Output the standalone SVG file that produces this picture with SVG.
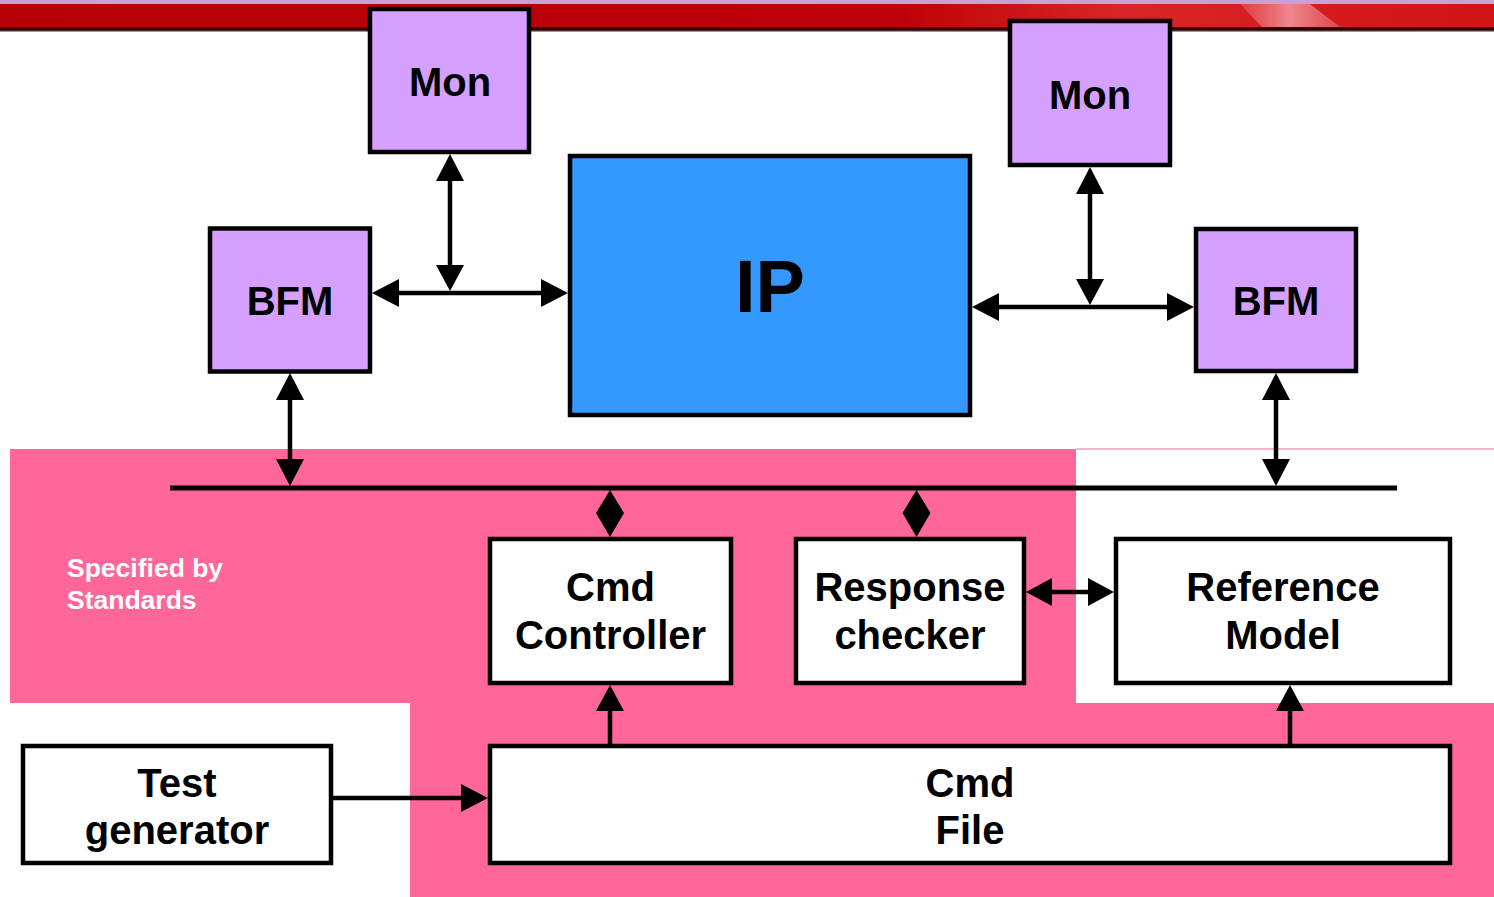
<svg xmlns="http://www.w3.org/2000/svg" width="1494" height="897" viewBox="0 0 1494 897">
  <defs>
    <linearGradient id="barRed" x1="0" y1="0" x2="1" y2="0">
      <stop offset="0" stop-color="#b60007"/>
      <stop offset="0.6" stop-color="#bc0208"/>
      <stop offset="0.75" stop-color="#d82428"/>
      <stop offset="1" stop-color="#d01418"/>
    </linearGradient>
    <linearGradient id="barShade" x1="0" y1="0" x2="0" y2="1">
      <stop offset="0" stop-color="#5a0000"/>
      <stop offset="0.6" stop-color="#1a0000"/>
      <stop offset="1" stop-color="#c8c8c8"/>
    </linearGradient>
    <linearGradient id="sheen" x1="0" y1="0" x2="1" y2="0">
      <stop offset="0" stop-color="#f08a90" stop-opacity="0.3"/>
      <stop offset="0.5" stop-color="#f29aa0" stop-opacity="0.85"/>
      <stop offset="1" stop-color="#f08a90" stop-opacity="0.4"/>
    </linearGradient>
    <style>
      .box { stroke: #000; stroke-width: 4.5; }
      .purple { fill: #d5a0ff; }
      .white { fill: #ffffff; }
      .blue { fill: #3399ff; }
      .lbl { font-family: "Liberation Sans", Arial, sans-serif; font-weight: bold; font-size: 40px; fill: #000; text-anchor: middle; }
      .big { font-size: 74px; }
      .note { font-family: "Liberation Sans", Arial, sans-serif; font-weight: bold; font-size: 26.5px; fill: #ffffff; }
      .wire { stroke: #000; stroke-width: 4.5; fill: none; }
      .head { fill: #000; }
    </style>
  </defs>

  <!-- page background and title bar -->
  <rect x="0" y="0" width="1494" height="897" fill="#ffffff"/>
  <rect x="0" y="0" width="1494" height="4" fill="#c6a2d8"/>
  <rect x="0" y="4" width="1494" height="23" fill="url(#barRed)"/>
  <polygon points="1240,4 1310,4 1340,27 1262,27" fill="url(#sheen)"/>
  <rect x="0" y="27" width="1494" height="5" fill="url(#barShade)"/>

  <!-- standards region -->
  <g id="standards-region">
    <rect x="10" y="449" width="1066" height="254" fill="#ff6699"/>
    <rect x="410" y="703" width="1084" height="194" fill="#ff6699"/>
    <rect x="1076" y="448.5" width="418" height="1" fill="#ff6699"/>
    <text class="note" x="67" y="577">Specified by</text>
    <text class="note" x="67" y="609">Standards</text>
  </g>

  <!-- connectors -->
  <g id="connectors">
    <!-- left BFM <-> IP with monitor tap -->
    <line class="wire" x1="395" y1="293" x2="545" y2="293"/>
    <polygon class="head" points="372,293 399,279 399,307"/>
    <polygon class="head" points="568,293 541,279 541,307"/>
    <line class="wire" x1="450" y1="176" x2="450" y2="270"/>
    <polygon class="head" points="450,154 436,181 464,181"/>
    <polygon class="head" points="450,291 436,265 464,265"/>

    <!-- IP <-> right BFM with monitor tap -->
    <line class="wire" x1="995" y1="307" x2="1171" y2="307"/>
    <polygon class="head" points="972,307 999,293 999,321"/>
    <polygon class="head" points="1194,307 1167,293 1167,321"/>
    <line class="wire" x1="1090" y1="189" x2="1090" y2="283"/>
    <polygon class="head" points="1090,167 1076,194 1104,194"/>
    <polygon class="head" points="1090,305 1076,279 1104,279"/>

    <!-- BFMs <-> bus -->
    <line class="wire" x1="290" y1="395" x2="290" y2="464"/>
    <polygon class="head" points="290,373 276,400 304,400"/>
    <polygon class="head" points="290,486 276,459 304,459"/>
    <line class="wire" x1="1276" y1="395" x2="1276" y2="464"/>
    <polygon class="head" points="1276,373 1262,400 1290,400"/>
    <polygon class="head" points="1276,486 1262,459 1290,459"/>

    <!-- bus -->
    <line x1="170" y1="488" x2="1397" y2="488" stroke="#000" stroke-width="5"/>

    <!-- bus <-> controller / checker -->
    <polygon class="head" points="610,490 596,513 610,537 624,513"/>
    <polygon class="head" points="916.5,490 902.5,513 916.5,537 930.5,513"/>

    <!-- checker <-> reference model -->
    <line class="wire" x1="1048" y1="592" x2="1092" y2="592"/>
    <polygon class="head" points="1026,592 1052,578 1052,606"/>
    <polygon class="head" points="1114,592 1088,578 1088,606"/>

    <!-- cmd file -> controller / reference model -->
    <line class="wire" x1="610" y1="744" x2="610" y2="706"/>
    <polygon class="head" points="610,685 596,711 624,711"/>
    <line class="wire" x1="1290" y1="744" x2="1290" y2="706"/>
    <polygon class="head" points="1290,685 1276,711 1304,711"/>

    <!-- test generator -> cmd file -->
    <line class="wire" x1="333" y1="798" x2="466" y2="798"/>
    <polygon class="head" points="488,798 461,784 461,812"/>
  </g>

  <!-- nodes -->
  <g id="mon-left">
    <rect class="box purple" x="370" y="9" width="159" height="143"/>
    <text class="lbl" x="450" y="96">Mon</text>
  </g>
  <g id="mon-right">
    <rect class="box purple" x="1010" y="21" width="160" height="144"/>
    <text class="lbl" x="1090" y="109">Mon</text>
  </g>
  <g id="bfm-left">
    <rect class="box purple" x="210" y="228.5" width="160" height="143"/>
    <text class="lbl" x="290" y="315">BFM</text>
  </g>
  <g id="bfm-right">
    <rect class="box purple" x="1196" y="229" width="160" height="142"/>
    <text class="lbl" x="1276" y="315">BFM</text>
  </g>
  <g id="ip">
    <rect class="box blue" x="570" y="156" width="400" height="259"/>
    <text class="lbl big" x="770" y="312">IP</text>
  </g>
  <g id="cmd-controller">
    <rect class="box white" x="490" y="539" width="241" height="144"/>
    <text class="lbl" x="610.5" y="601">Cmd</text>
    <text class="lbl" x="610.5" y="649">Controller</text>
  </g>
  <g id="response-checker">
    <rect class="box white" x="796" y="539" width="228" height="144"/>
    <text class="lbl" x="910" y="601">Response</text>
    <text class="lbl" x="910" y="649">checker</text>
  </g>
  <g id="reference-model">
    <rect class="box white" x="1116" y="539" width="334" height="144"/>
    <text class="lbl" x="1283" y="601">Reference</text>
    <text class="lbl" x="1283" y="649">Model</text>
  </g>
  <g id="test-generator">
    <rect class="box white" x="23" y="746" width="308" height="117"/>
    <text class="lbl" x="177" y="797">Test</text>
    <text class="lbl" x="177" y="844">generator</text>
  </g>
  <g id="cmd-file">
    <rect class="box white" x="490" y="746" width="960" height="117"/>
    <text class="lbl" x="970" y="797">Cmd</text>
    <text class="lbl" x="970" y="844">File</text>
  </g>
</svg>
